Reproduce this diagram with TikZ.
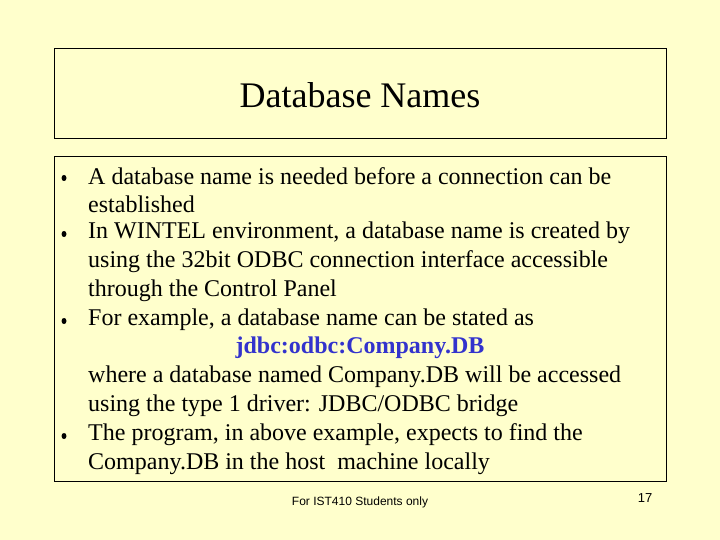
\documentclass[tikz,border=0pt]{standalone}
\usepackage{fontspec}
\usetikzlibrary{shapes.geometric}
\setmainfont{Liberation Serif}
\newfontfamily\footfont{Liberation Sans}
\definecolor{slidebg}{HTML}{FFFFCC}
\definecolor{codeblue}{HTML}{3333CC}
\begin{document}
\begin{tikzpicture}[x=1pt, y=-1pt]
    % Define styles
    \tikzset{frame/.style={draw=black, line width=0.6pt},
             line/.style={anchor=west, inner sep=0pt, font=\fontsize{24}{28}\selectfont},
             dot/.style={ellipse, fill=black, inner sep=0pt, minimum width=5pt, minimum height=6pt}}

    % Background and frames
    \fill[slidebg] (0,0) rectangle (720,540);
    \useasboundingbox (0,0) rectangle (720,540);
    \draw[frame] (54,48) rectangle (666,138);
    \draw[frame] (54,156) rectangle (666,481);

    % Title
    \node[font=\fontsize{36}{42}\selectfont] (title) at (360,95) {Database Names};

    % Bullets
    \foreach \y/\n in {178/a, 234/b, 321/c, 436/d}
        \node[dot] (bullet\n) at (64,\y) {};

    % Body lines
    \node[line] (l1) at (88,176) {A database name is needed before a connection can be};
    \node[line] (l2) at (88,204) {established};
    \node[line] (l3) at (88,233) {In WINTEL environment, a database name is created by};
    \node[line] (l4) at (88,262) {using the 32bit ODBC connection interface accessible};
    \node[line] (l5) at (88,291) {through the Control Panel};
    \node[line] (l6) at (88,320) {For example, a database name can be stated as};
    \node[line, anchor=center, text=codeblue, font=\fontsize{24}{28}\selectfont\bfseries] (code) at (360,348) {jdbc:odbc:Company.DB};
    \node[line] (l7) at (88,377) {where a database named Company.DB will be accessed};
    \node[line] (l8) at (88,406) {using the type 1 driver: JDBC/ODBC bridge};
    \node[line] (l9) at (88,435) {The program, in above example, expects to find the};
    \node[line] (l10) at (88,464) {Company.DB in the host\ \ machine locally};

    % Footer
    \node[font=\footfont\fontsize{12}{14}\selectfont] (foot) at (360,502) {For IST410 Students only};
    \node[font=\footfont\fontsize{13}{15}\selectfont] (page) at (645,498) {17};
\end{tikzpicture}
\end{document}
